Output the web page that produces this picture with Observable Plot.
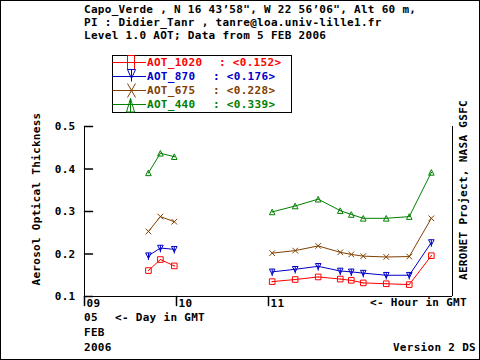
<!DOCTYPE html>
<html><head><meta charset="utf-8">
<script src="https://cdn.jsdelivr.net/npm/d3@7"></script>
<script src="https://cdn.jsdelivr.net/npm/@observablehq/plot@0.6"></script>
<style>
html,body{margin:0;padding:0;background:#fff;}
#wrap{position:relative;width:480px;height:360px;overflow:hidden;background:#fff;}
#wrap svg{position:absolute;left:0;top:0;}
</style></head><body><div id="wrap"></div>
<script>
// ---- data ----
const titleLines = [
  "Capo_Verde , N 16 43\u201958\", W 22 56\u201906\", Alt 60 m,",
  "PI : Didier_Tanr , tanre@loa.univ-lille1.fr",
  "Level 1.0 AOT; Data from 5 FEB 2006"
];
const hours   = [9.695, 9.825, 9.976, 11.04, 11.29, 11.54, 11.78, 11.90, 12.03, 12.28, 12.53, 12.77];
const segment = [0, 0, 0, 1, 1, 1, 1, 1, 1, 1, 1, 1];
const aot1020 = [0.161, 0.187, 0.172, 0.135, 0.140, 0.146, 0.141, 0.138, 0.132, 0.130, 0.128, 0.196];
const aot870  = [0.196, 0.214, 0.211, 0.158, 0.164, 0.171, 0.160, 0.158, 0.155, 0.150, 0.150, 0.227];
const aot675  = [0.253, 0.288, 0.276, 0.202, 0.208, 0.219, 0.204, 0.199, 0.195, 0.193, 0.194, 0.284];
const aot440  = [0.391, 0.437, 0.429, 0.299, 0.313, 0.329, 0.302, 0.293, 0.284, 0.284, 0.288, 0.392];
const seriesNames  = ["AOT_1020", "AOT_870", "AOT_675", "AOT_440"];
const seriesMeans  = ["0.152", "0.176", "0.228", "0.339"];
const seriesColors = ["#ff0000", "#0000c8", "#804000", "#008000"];
const yTicks = [0.1, 0.2, 0.3, 0.4, 0.5];
const xTicks = [9, 10, 11];
const xTickLabels = ["09", "10", "11"];
const yLabel = "Aerosol Optical Thickness";
const rightLabel = "AERONET Project, NASA GSFC";
const hourLabel = "<- Hour in GMT";
const dayLabel = "05";
const dayNote = "<- Day in GMT";
const monthLabel = "FEB";
const yearLabel = "2006";
const versionLabel = "Version 2 DS";

// ---- build ----
const FONT = "'DejaVu Sans Mono', 'Liberation Mono', monospace";
const seriesValues = [aot1020, aot870, aot675, aot440];
const rows = [];
seriesValues.forEach((vals, si) => hours.forEach((h, i) => rows.push({
  hour: h, aot: vals[i], series: seriesNames[si], seg: seriesNames[si] + "-" + segment[i]
})));

const rOf = size => Math.sqrt(size / Math.PI);
const symSquare = {draw(c, size){ const h = rOf(size); c.moveTo(-h,-h); c.lineTo(h,-h); c.lineTo(h,h); c.lineTo(-h,h); c.closePath(); c.moveTo(-0.5,0); c.lineTo(0.5,0); }};
const symInvTri = {draw(c, size){ const h = rOf(size); c.moveTo(-h,-h); c.lineTo(h,-h); c.lineTo(0,h); c.closePath(); c.moveTo(0,-h); c.lineTo(0,h+1.5); }};
const symTimes  = {draw(c, size){ const h = rOf(size); c.moveTo(-h,-h); c.lineTo(h,h); c.moveTo(h,-h); c.lineTo(-h,h); }};
const symTri    = {draw(c, size){ const h = rOf(size); c.moveTo(0,-h); c.lineTo(h,h); c.lineTo(-h,h); c.closePath(); c.moveTo(0,-0.5); c.lineTo(0,0.5); }};
const symbols = [symSquare, symInvTri, symTimes, symTri];
const tickShape = {draw(c, l){ c.moveTo(0,0); c.lineTo(0,-l); }};

const marks = [
  Plot.ruleX([9, 13], {stroke: "#000"}),
  Plot.ruleY([0.1], {stroke: "#000"}),
  Plot.vector(yTicks, {y: d => d, frameAnchor: "left", length: 8, rotate: 90, anchor: "start", shape: tickShape, stroke: "#000"}),
  Plot.vector(xTicks, {x: d => d, frameAnchor: "bottom", length: 9, rotate: 180, anchor: "start", shape: tickShape, stroke: "#000"}),
  Plot.axisY({ticks: yTicks, tickSize: 0, tickPadding: 9, tickFormat: d3.format(".1f"), label: null, fontWeight: "bold"}),
  Plot.text(xTicks, {x: d => d, text: (d, i) => xTickLabels[i], frameAnchor: "bottom", dy: 10, dx: 2, textAnchor: "start", lineAnchor: "bottom", fontWeight: "bold", fill: "#000"})
];
seriesNames.forEach((name, si) => {
  const d = rows.filter(r => r.series === name);
  marks.push(Plot.line(d, {x: "hour", y: "aot", z: "seg", stroke: seriesColors[si], strokeWidth: 1, curve: "linear"}));
  marks.push(Plot.dot(d, {x: "hour", y: "aot", symbol: symbols[si], r: 2.8, stroke: seriesColors[si], fill: "none", strokeWidth: 1}));
});

const chart = Plot.plot({
  width: 480, height: 360,
  marginLeft: 84, marginRight: 28, marginTop: 126, marginBottom: 64,
  x: {domain: [9, 13], axis: null},
  y: {domain: [0.1, 0.5], axis: null},
  style: {fontFamily: FONT, fontSize: "11px", fontWeight: "bold", background: "transparent", color: "#000", letterSpacing: "0.3px"},
  marks
});
const wrap = document.getElementById("wrap");
wrap.appendChild(chart);

// ---- overlay: titles, legend, side labels ----
const svg = d3.select(wrap).append("svg").attr("width", 480).attr("height", 360)
  .style("font-family", FONT).style("font-size", "11px").style("font-weight", "bold").style("letter-spacing", "0.3px");
svg.append("rect").attr("x", 0.5).attr("y", 0.5).attr("width", 479).attr("height", 359).attr("fill", "none").attr("stroke", "#000");
titleLines.forEach((t, i) => svg.append("text").attr("x", 84).attr("y", 13 + i * 13.2).text(t));
svg.append("text").attr("transform", "translate(40,199) rotate(-90)").attr("text-anchor", "middle").text(yLabel);
svg.append("text").attr("transform", "translate(467,190) rotate(-90)").attr("text-anchor", "middle").text(rightLabel);
svg.append("text").attr("x", 370).attr("y", 306).text(hourLabel);
svg.append("text").attr("x", 84).attr("y", 321).text(dayLabel);
svg.append("text").attr("x", 115).attr("y", 321).text(dayNote);
svg.append("text").attr("x", 84).attr("y", 336).text(monthLabel);
svg.append("text").attr("x", 84).attr("y", 351).text(yearLabel);
svg.append("text").attr("x", 476).attr("y", 351).attr("text-anchor", "end").text(versionLabel);

// legend
svg.append("rect").attr("x", 112.5).attr("y", 55.5).attr("width", 179).attr("height", 57).attr("fill", "none").attr("stroke", "#000");
const legLineY = [62.5, 76.5, 90.5, 104.5];
const legMeanX = [219, 213, 213, 213];
const legendShapes = [
  y => `M127.5,${y-7}H134.5V${y+7}H127.5Z`,
  y => `M127.5,${y-7}H135.5L131.5,${y+2}Z M131.5,${y-7}V${y+5}`,
  y => `M127.5,${y-7}L135.5,${y+7} M135.5,${y-7}L127.5,${y+7}`,
  y => `M130.5,${y-6}L134.5,${y+7.5}H126.5Z M130.5,${y-6}V${y+7.5}`
];
seriesNames.forEach((name, i) => {
  const y = legLineY[i], col = seriesColors[i];
  svg.append("line").attr("x1", 112.5).attr("x2", 146).attr("y1", y).attr("y2", y).attr("stroke", col);
  svg.append("path").attr("d", legendShapes[i](y)).attr("fill", "none").attr("stroke", col);
  svg.append("text").attr("x", 147).attr("y", y + 3.8).attr("fill", col).text(name);
  svg.append("text").attr("x", legMeanX[i]).attr("y", y + 3.8).attr("fill", col).text(": <" + seriesMeans[i] + ">");
});
</script></body></html>
